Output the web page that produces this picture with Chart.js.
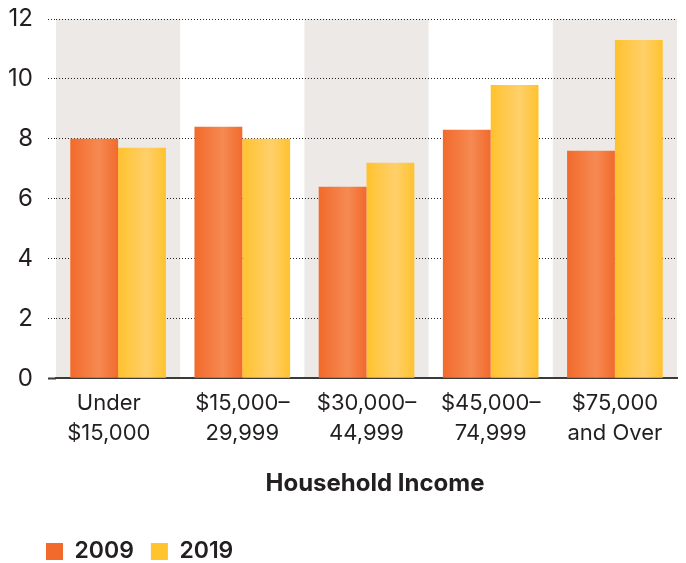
<!DOCTYPE html>
<html><head><meta charset="utf-8">
<script src="https://cdn.jsdelivr.net/npm/chart.js@4/dist/chart.umd.min.js"></script>
<style>html,body{margin:0;padding:0;background:#fff}#wrap{width:686px;height:563px;position:relative}</style>
</head><body><div id="wrap"><canvas id="c"></canvas></div>
<script>
const categories = [["Under   ","$15,000   "],["$15,000–","29,999"],["$30,000–","44,999"],["$45,000–","74,999"],["$75,000","and Over"]];
const seriesLabels = ["2009","2019"];
const series2009 = [8.0, 8.4, 6.4, 8.3, 7.6];
const series2019 = [7.7, 8.0, 7.2, 9.8, 11.3];
const yTickValues = [0, 2, 4, 6, 8, 10, 12];
const axisTitle = "   Household Income";

const FONT = "Inter, Lato, sans-serif";
const TEXT = "#231F20";
const CAT_PCT = 0.77;
const LEGEND_PAD = 17;

function gradientFill(edge, light, dsIndex) {
  return (ctx) => {
    const chart = ctx.chart;
    const xs = chart.scales && chart.scales.x;
    if (!xs || ctx.type !== 'data' || !chart.chartArea) return edge;
    const c = xs.getPixelForValue(ctx.dataIndex);
    const bw = (xs.right - xs.left) / categories.length * CAT_PCT / 2;
    const x0 = dsIndex === 0 ? c - bw : c;
    const g = chart.ctx.createLinearGradient(x0, 0, x0 + bw, 0);
    g.addColorStop(0, edge);
    g.addColorStop(0.6, light);
    g.addColorStop(1, edge);
    return g;
  };
}
const solid = ["#F26A2C", "#FFC42E"];

const bandsPlugin = {
  id: 'bands',
  afterLayout(chart) {
    if (chart.legend) chart.legend.left = 46 - LEGEND_PAD;
  },
  beforeDraw(chart) {
    const xs = chart.scales.x, ys = chart.scales.y, ctx = chart.ctx;
    const cw = (xs.right - xs.left) / categories.length;
    ctx.save();
    ctx.fillStyle = "#EDE9E6";
    categories.forEach((c, i) => {
      if (i % 2 === 0) {
        const cx = xs.getPixelForValue(i);
        ctx.fillRect(cx - cw / 2, ys.top, cw, ys.bottom - ys.top);
      }
    });
    ctx.restore();
  }
};

const isZero = (c) => c.tick && c.tick.value === 0;

new Chart(document.getElementById('c'), {
  type: 'bar',
  data: {
    labels: categories,
    datasets: [
      { label: seriesLabels[0], data: series2009, backgroundColor: gradientFill("#F26A2C", "#F58A52", 0), borderWidth: 0 },
      { label: seriesLabels[1], data: series2019, backgroundColor: gradientFill("#FFC22E", "#FFD06B", 1), borderWidth: 0 }
    ]
  },
  options: {
    responsive: true,
    maintainAspectRatio: false,
    animation: false,
    datasets: { bar: { categoryPercentage: CAT_PCT, barPercentage: 1 } },
    layout: { padding: { left: 0, right: 9, top: 19, bottom: -10 } },
    plugins: {
      legend: {
        position: 'bottom',
        align: 'start',
        labels: {
          boxWidth: 17, boxHeight: 17, padding: LEGEND_PAD, color: TEXT,
          font: { family: FONT, size: 23, weight: '600' },
          generateLabels(chart) {
            const items = Chart.defaults.plugins.legend.labels.generateLabels(chart);
            items.forEach((it, i) => { it.fillStyle = solid[i]; it.strokeStyle = solid[i]; it.lineWidth = 0; });
            return items;
          }
        }
      },
      tooltip: { enabled: false }
    },
    scales: {
      x: {
        grid: { display: false, drawTicks: false },
        border: { display: true, color: "#3A3A3A", width: 2 },
        ticks: { color: TEXT, font: { family: FONT, size: 22, lineHeight: 1.36 }, padding: 10, maxRotation: 0, autoSkip: false },
        title: { display: true, text: axisTitle, color: TEXT, font: { family: FONT, size: 24, weight: 'bold' }, padding: { top: 11, bottom: 25 } }
      },
      y: {
        min: yTickValues[0], max: yTickValues[yTickValues.length - 1],
        afterFit(scale) { scale.width = 56; scale.paddingTop = 0; scale.paddingBottom = 0; },
        ticks: { stepSize: yTickValues[1] - yTickValues[0], color: TEXT, font: { family: FONT, size: 24 }, padding: 15, autoSkip: false },
        grid: {
          color: "#222", lineWidth: 1, tickLength: 8, drawTicks: true,
          tickBorderDash: (c) => isZero(c) ? [] : [1, 2],
          tickWidth: (c) => isZero(c) ? 2 : 1,
          tickColor: (c) => isZero(c) ? "#3A3A3A" : "#222"
        },
        border: { display: false, dash: [1, 2] }
      }
    }
  },
  plugins: [bandsPlugin]
});
</script></body></html>
